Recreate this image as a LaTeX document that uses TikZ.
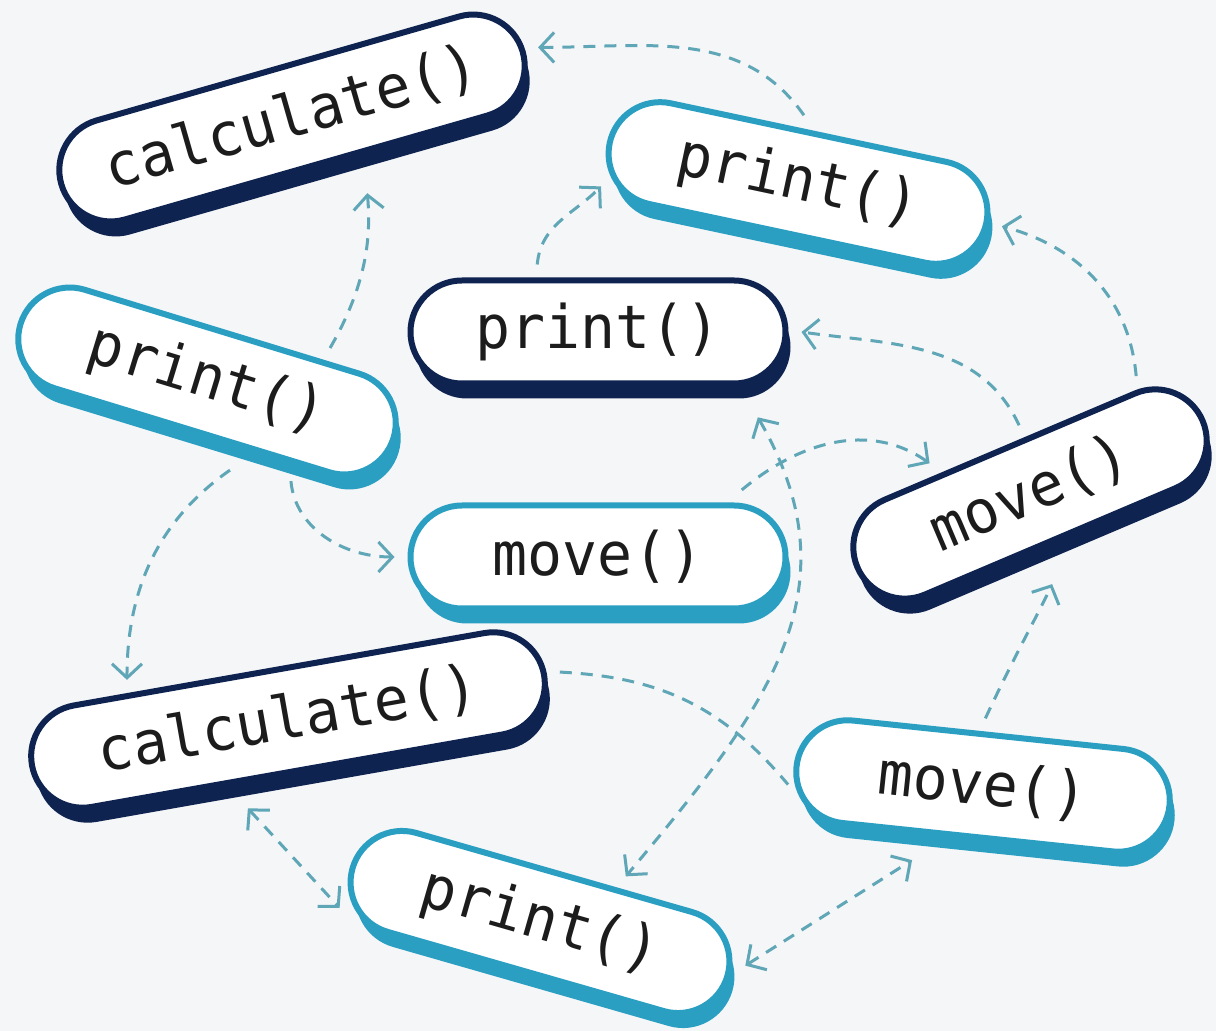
\documentclass[tikz,border=0pt]{standalone}
\usepackage{fontspec}
\usepackage{tikz}
\usetikzlibrary{arrows.meta,shapes.misc,shadows}
\newfontfamily\pillfont[FakeStretch=0.97]{DejaVu Sans Mono}
\definecolor{navy}{HTML}{0E2350}
\definecolor{lagoon}{HTML}{2A9FC2}
\definecolor{wire}{HTML}{5FA6B6}
\definecolor{paper}{HTML}{F5F6F8}
\definecolor{ink}{HTML}{1C1C1C}
\tikzset{
  pill/.style     = {rounded rectangle, draw=#1, fill=white, line width=6pt,
                     minimum height=103pt, inner sep=0pt, outer sep=16pt, text=ink,
                     font=\pillfont\fontsize{60}{64}\selectfont,
                     drop shadow={shadow xshift=5pt, shadow yshift=-15pt, fill=#1, opacity=1}},
  flow/.style     = {draw=wire, line width=3pt, dash pattern=on 12pt off 9pt,
                     -{Straight Barb[length=14pt, width=30pt]}},
  flowboth/.style = {flow, {Straight Barb[length=14pt, width=30pt]}-{Straight Barb[length=14pt, width=30pt]}},
}
\begin{document}
\begin{tikzpicture}[x=1pt, y=1pt]
  \fill[paper] (0,0) rectangle (1216,1031);
  \useasboundingbox (0,0) rectangle (1216,1031);

  % the calls
  \node[pill=navy,   minimum width=480pt, rotate=16]  (calc1)  at (292,913) {calculate()};
  \node[pill=lagoon, minimum width=385pt, rotate=-12] (print1) at (798,848) {print()};
  \node[pill=lagoon, minimum width=390pt, rotate=-17] (print2) at (207,650) {print()};
  \node[pill=navy,   minimum width=375pt]             (print3) at (598,699) {print()};
  \node[pill=lagoon, minimum width=375pt]             (move1)  at (598,474) {move()};
  \node[pill=navy,   minimum width=375pt, rotate=23]  (move2)  at (1030,537) {move()};
  \node[pill=navy,   minimum width=520pt, rotate=10]  (calc2)  at (288,311) {calculate()};
  \node[pill=lagoon, minimum width=375pt, rotate=-6]  (move3)  at (983,245) {move()};
  \node[pill=lagoon, minimum width=390pt, rotate=-16] (print4) at (540,109) {print()};

  % who calls whom
  \draw[flow] (print1.97) to[out=125, in=0] (calc1.east);
  \draw[flow, shorten >=26pt] (print2.32) to[out=60, in=-85] (calc1.-50);
  \draw[flow] (print3.132) to[out=85, in=225] (print1.193);
  \draw[flow] (move2.25) to[out=95, in=-15] (print1.east);
  \draw[flow] (move2.76) to[out=115, in=-8] (print3.east);
  \draw[flow] (move1.25) to[out=40, in=145] (move2.140);
  \draw[flowboth, shorten <=22pt] (print3.-24) to[out=-60, in=50, looseness=1.15] (print4.44);
  \draw[flow, shorten >=36pt] (move3.94) to[out=65, in=-115] (move2.-80);
  \draw[flow, -, shorten >=-12pt] (calc2.east) to[out=-3, in=130] (move3.183);
  \draw[flow, shorten <=14pt] (print2.-50) to[out=215, in=90] (calc2.156);
  \draw[flow, shorten <=4pt] (print2.-32) to[out=-85, in=180] (move1.west);
  \draw[flowboth, shorten <=15pt] (calc2.-133) -- (print4.192);
  \draw[flowboth, shorten >=22pt] (print4.4) -- (move3.-124);
\end{tikzpicture}
\end{document}
